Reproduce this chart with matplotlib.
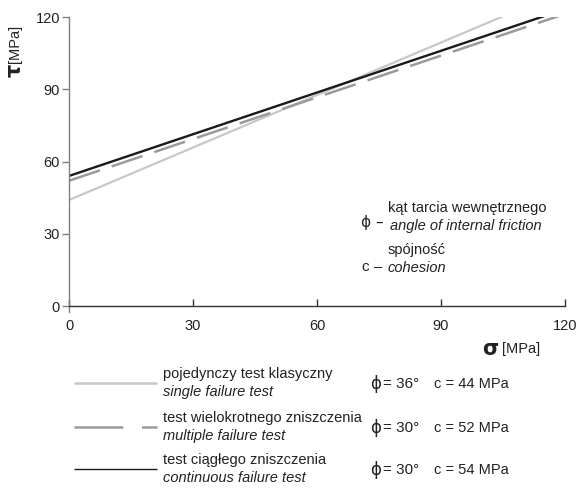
import numpy as np
import matplotlib
matplotlib.use("Agg")
import matplotlib.pyplot as plt

# Mohr-Coulomb envelopes: tau = c + sigma * tan(phi)
series_pl = ["pojedynczy test klasyczny", "test wielokrotnego zniszczenia", "test ciągłego zniszczenia"]
series_en = ["single failure test", "multiple failure test", "continuous failure test"]
phi_deg = [36, 30, 30]
cohesion = [44, 52, 54]
sigma_range = [0, 120]

x_ticks = [0, 30, 60, 90, 120]
y_ticks = [0, 30, 60, 90, 120]

FONT = ["Liberation Sans Narrow", "Liberation Sans", "DejaVu Sans"]
plt.rcParams["font.family"] = FONT

W, H = 578, 490
fig = plt.figure(figsize=(W / 100, H / 100), dpi=100)
ax = fig.add_axes([69 / W, 1 - 306 / H, (565 - 69) / W, (306 - 17) / H])

styles = [
    dict(color="#c8c8c8", lw=1.6, ls="-"),
    dict(color="#9a9a9a", lw=1.8, ls=(0, (13, 5))),
    dict(color="#1a1a1a", lw=1.7, ls="-"),
]

sig = np.array(sigma_range, dtype=float)
for phi, c, st in zip(phi_deg, cohesion, styles):
    tau = c + sig * np.tan(np.radians(phi))
    ax.plot(sig, tau, solid_capstyle="butt", dash_capstyle="butt", **st)

ax.set_xlim(0, 120)
ax.set_ylim(0, 120)
ax.set_xticks(x_ticks)
ax.set_yticks(y_ticks)
for s in ["top", "right"]:
    ax.spines[s].set_visible(False)
ax.spines["left"].set_color("#808080")
ax.spines["bottom"].set_color("#333333")
ax.spines["left"].set_linewidth(1.0)
ax.spines["bottom"].set_linewidth(1.0)
ax.spines["left"].set_bounds(-2.5, 120)
ax.tick_params(axis="y", direction="out", length=5, width=1.0, color="#808080",
               labelsize=10.5, pad=1.5, labelcolor="#222222")
ax.tick_params(axis="x", direction="in", length=5, width=1.0, color="#333333",
               labelsize=10.5, pad=9, labelcolor="#222222")

# axis labels
fig.text(15 / W, 1 - 70 / H, "τ", rotation=90, fontsize=15, fontweight="bold",
         ha="center", va="center", family=["DejaVu Sans"], color="#222222")
fig.text(15 / W, 1 - 44 / H, "[MPa]", rotation=90, fontsize=10.5,
         ha="center", va="center", color="#222222")
fig.text(490 / W, 1 - 349 / H, "σ", fontsize=15, fontweight="bold",
         ha="center", va="center", family=["DejaVu Sans"], color="#222222")
fig.text(502 / W, 1 - 349 / H, "[MPa]", fontsize=10.5,
         ha="left", va="center", color="#222222")

# symbol explanation inside the plot
tc = "#222222"
fig.text(372 / W, 1 - 222 / H, "ϕ –", fontsize=11, ha="center", va="center",
         family=["DejaVu Sans"], color=tc)
fig.text(388 / W, 1 - 208 / H, "kąt tarcia wewnętrznego", fontsize=10.5,
         ha="left", va="center", color=tc)
fig.text(390 / W, 1 - 226 / H, "angle of internal friction", fontsize=10.5,
         style="italic", ha="left", va="center", color=tc)
fig.text(372 / W, 1 - 267 / H, "c –", fontsize=11, ha="center", va="center", color=tc)
fig.text(388 / W, 1 - 250 / H, "spójność", fontsize=10.5,
         ha="left", va="center", color=tc)
fig.text(388 / W, 1 - 268 / H, "cohesion", fontsize=10.5,
         style="italic", ha="left", va="center", color=tc)

# legend below the plot
leg = fig.add_axes([0, 0, 1, 1], facecolor="none")
leg.set_xlim(0, W)
leg.set_ylim(H, 0)
leg.axis("off")
row_y = [383, 427, 469]
leg_styles = [
    dict(color="#c8c8c8", lw=1.8, ls="-"),
    dict(color="#9a9a9a", lw=1.8, ls=(0, (19.5, 7.5))),
    dict(color="#1a1a1a", lw=1.0, ls="-"),
]
for y, pl, en, phi, c, st in zip(row_y, series_pl, series_en, phi_deg, cohesion, leg_styles):
    leg.plot([74, 157], [y, y], solid_capstyle="butt", dash_capstyle="butt", **st)
    leg.text(163, y - 9, pl, fontsize=10.5, ha="left", va="center", color=tc)
    leg.text(163, y + 9, en, fontsize=10.5, style="italic", ha="left", va="center", color=tc)
    leg.text(370, y + 1, "ϕ", fontsize=12, ha="left", va="center",
             family=["DejaVu Sans"], color=tc)
    leg.text(383, y + 1, f"= {phi}°", fontsize=11, ha="left", va="center", color=tc)
    leg.text(434, y + 1, f"c = {c} MPa", fontsize=10.5, ha="left", va="center", color=tc)

fig.savefig("out.png", dpi=100)
